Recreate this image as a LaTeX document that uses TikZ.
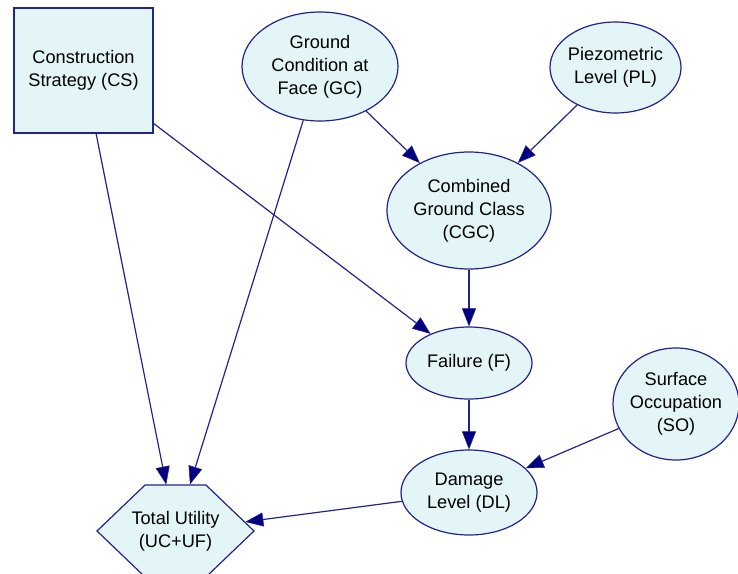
\documentclass[tikz,border=0pt]{standalone}
\usepackage{fontspec}
\setmainfont{Liberation Sans}
\usetikzlibrary{arrows.meta,shapes.geometric,shapes.symbols}
\definecolor{edgeblue}{HTML}{23238C}
\definecolor{tipblue}{HTML}{000080}
\definecolor{nodefill}{HTML}{E3F5F6}
\newcommand{\narrowline}[1]{\makebox[60pt][c]{#1}}
\tikzset{
  base/.style={draw=edgeblue, fill=nodefill, line width=1.2pt, inner sep=0pt, align=center,
    font=\fontsize{18.2}{23}\selectfont, text=black},
  oval/.style={base, ellipse, inner xsep=-4pt},
  decbox/.style={base, rectangle},
  util/.style={base, signal, signal to=east and west, signal pointer angle=87.5},
  link/.style={draw=edgeblue, line width=1.2pt, -{Triangle[length=18pt,width=14pt,fill=tipblue,line width=0.5pt]}}
}
\begin{document}
\begin{tikzpicture}[x=1pt,y=-1pt]
\useasboundingbox (0,0) rectangle (738,573);
\node[decbox, minimum width=139pt, minimum height=125pt] (CS) at (83.5,70.5) {Construction\\Strategy (CS)};
\node[oval, minimum width=156pt, minimum height=109pt] (GC) at (320,66.5) {Ground\\Condition at\\Face (GC)};
\node[oval, minimum width=131pt, minimum height=91pt] (PL) at (615.5,67.5) {Piezometric\\Level (PL)};
\node[oval, minimum width=164pt, minimum height=117pt] (CGC) at (469,210.5) {Combined\\Ground Class\\(CGC)};
\node[oval, minimum width=126pt, minimum height=72pt] (F) at (469,363) {Failure (F)};
\node[oval, minimum width=136pt, minimum height=85pt] (DL) at (469,492.5) {Damage\\Level (DL)};
\node[oval, minimum width=126pt, minimum height=112pt] (SO) at (676,404) {Surface\\Occupation\\(SO)};
\node[util, minimum width=157pt, minimum height=92pt] (TU) at (175.5,531) {\narrowline{Total Utility}\\\narrowline{(UC+UF)}};
\draw[link] (CS) -- (TU);
\draw[link] (GC) -- (TU);
\draw[link] (CS) -- (F);
\draw[link] (GC) -- (CGC);
\draw[link] (PL) -- (CGC);
\draw[link] (CGC) -- (F);
\draw[link] (F) -- (DL);
\draw[link] (SO) -- (DL);
\draw[link] (DL) -- (TU);
\end{tikzpicture}
\end{document}
